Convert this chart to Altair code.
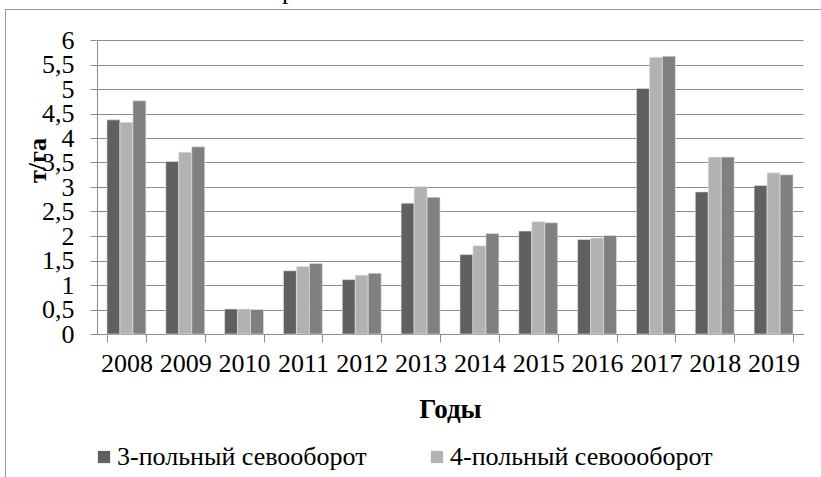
import altair as alt
import pandas as pd

years = [str(y) for y in range(2008, 2020)]
series = ["3-польный севооборот", "4-польный севоооборот", "5-польный севооборот"]
colors = ["#606060", "#b2b2b2", "#808080"]

s3 = [4.37, 3.52, 0.51, 1.29, 1.11, 2.67, 1.62, 2.10, 1.93, 5.01, 2.90, 3.03]
s4 = [4.32, 3.71, 0.51, 1.38, 1.20, 3.01, 1.80, 2.29, 1.96, 5.65, 3.61, 3.29]
s5 = [4.76, 3.82, 0.50, 1.44, 1.24, 2.79, 2.05, 2.27, 2.01, 5.67, 3.61, 3.25]

y_ticks = [i * 0.5 for i in range(13)]

rows = []
for name, vals in zip(series, [s3, s4, s5]):
    for yr, v in zip(years, vals):
        rows.append({"Год": yr, "Серия": name, "v": v})
df = pd.DataFrame(rows)

FONT = "'Liberation Serif', 'Times New Roman', Times, serif"
GRID = "#8c8c8c"

bars = alt.Chart(df).mark_bar(stroke="#e6e6e6", strokeWidth=0.6).encode(
    x=alt.X(
        "Год:N",
        sort=years,
        scale=alt.Scale(paddingInner=0.338, paddingOuter=0.169),
        axis=alt.Axis(
            title="Годы",
            titleFont=FONT,
            titleFontSize=27,
            titleFontWeight="bold",
            titleColor="black",
            titleX=353,
            titleY=83,
            titleBaseline="alphabetic",
            titleAlign="center",
            labelFont=FONT,
            labelFontSize=26,
            labelColor="black",
            labelAngle=0,
            labelPadding=8,
            labelOverlap=False,
            tickBand="extent",
            tickSize=8,
            tickColor=GRID,
            domainColor=GRID,
            grid=False,
        ),
    ),
    xOffset=alt.XOffset("Серия:N", sort=series),
    y=alt.Y(
        "v:Q",
        scale=alt.Scale(domain=[0, 6], nice=False),
        axis=alt.Axis(
            title="т/га",
            titleFont=FONT,
            titleFontSize=26,
            titleFontWeight="bold",
            titleColor="black",
            titleAngle=270,
            titleX=-52,
            titleY=120,
            titleAlign="center",
            titleBaseline="alphabetic",
            values=y_ticks,
            labelExpr="replace(toString(datum.value), '.', ',')",
            labelFont=FONT,
            labelFontSize=26,
            labelColor="black",
            labelPadding=16,
            labelOverlap=False,
            tickSize=7,
            tickColor=GRID,
            domainColor=GRID,
            gridColor=GRID,
            gridWidth=1,
        ),
    ),
    color=alt.Color(
        "Серия:N",
        sort=series,
        scale=alt.Scale(domain=series, range=colors),
        legend=alt.Legend(
            orient="none",
            legendX=-6,
            legendY=404,
            direction="horizontal",
            columns=2,
            columnPadding=57,
            values=series[:2],
            title=None,
            symbolType="square",
            symbolSize=150,
            symbolStrokeWidth=0,
            labelFont=FONT,
            labelFontSize=26,
            labelColor="black",
            labelOffset=0,
            labelLimit=0,
        ),
    ),
)

frame = alt.Chart(pd.DataFrame({"a": [0]})).mark_rect(
    fill=None, stroke="#999999", strokeWidth=1
).encode(
    x=alt.value(-91.5), x2=alt.value(900), y=alt.value(-30.5), y2=alt.value(600)
)

top_text = alt.Chart(pd.DataFrame({"t": ["р"]})).mark_text(
    font=FONT, fontSize=26, align="left", baseline="alphabetic", color="black"
).encode(
    text="t:N", x=alt.value(185), y=alt.value(-41)
)

chart = alt.layer(frame, bars, top_text).properties(
    width=706,
    height=294,
    autosize=alt.AutoSizeParams(type="none"),
    padding={"left": 97, "top": 40, "right": 18, "bottom": 143},
).configure_view(stroke=None)

chart.save("out.html", embed_options={"renderer": "svg", "actions": False})
